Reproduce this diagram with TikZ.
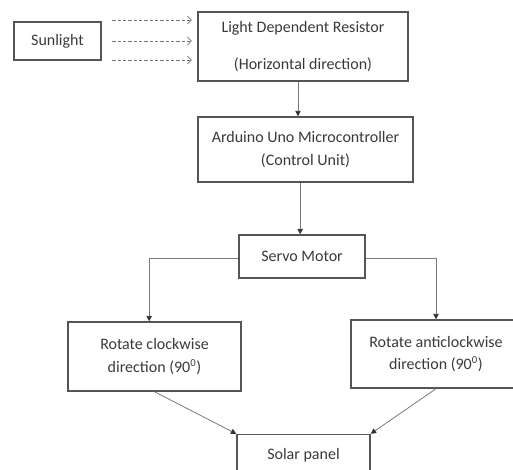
\documentclass[tikz,border=0pt]{standalone}
\usepackage{fontspec}
\setmainfont{Carlito}
\usetikzlibrary{arrows.meta}
\definecolor{boxgray}{HTML}{555555}
\definecolor{linegray}{HTML}{7A7A7A}
\definecolor{textgray}{HTML}{3A3A3A}
\tikzset{
  blockbox/.style={draw=boxgray, line width=1.1pt, align=center, inner sep=0pt,
    text=textgray, font=\fontsize{12}{14.4}\selectfont},
  flow/.style={draw=linegray, line width=0.6pt, -{Triangle[width=4pt,length=4pt,color=black!80]}},
  ray/.style={draw=linegray, line width=0.6pt, dashed, dash pattern=on 2.5pt off 1.5pt, -{Straight Barb[length=3pt,width=6pt]}}
}
\begin{document}
\begin{tikzpicture}[x=0.75pt,y=-0.75pt]
\clip (0,0) rectangle (513,470);
\fill[white] (0,0) rectangle (513,470);

\node[blockbox, minimum width=65pt, minimum height=28.5pt] (sun) at (57.5,41) {Sunlight};
\node[blockbox, minimum width=157.5pt, minimum height=51.75pt] (ldr) at (303,46.5) {Light Dependent Resistor\\[13pt](Horizontal direction)};
\node[blockbox, minimum width=161.25pt, minimum height=48.75pt] (ard) at (305.5,149.5) {Arduino Uno Microcontroller\\[2.5pt](Control Unit)};
\node[blockbox, minimum width=94.5pt, minimum height=32.25pt] (servo) at (302,256.5) {Servo Motor};
\node[blockbox, minimum width=129.75pt, minimum height=51.75pt] (cw) at (154.5,356.5) {Rotate clockwise\\[2.5pt]direction (90\textsuperscript{0})};
\node[blockbox, minimum width=127.5pt, minimum height=51pt] (acw) at (436,354) {Rotate anticlockwise\\[2.5pt]direction (90\textsuperscript{0})};
\node[blockbox, minimum width=99.75pt, minimum height=31.5pt] (solar) at (303.5,455.5) {Solar panel};

% sunlight rays
\path[ray] ([xshift=8pt,yshift=15.75pt]sun.east) -- ([xshift=-4pt,yshift=15.75pt]sun.east -| ldr.west);
\path[ray] ([xshift=8pt]sun.east) -- ([xshift=-4pt]sun.east -| ldr.west);
\path[ray] ([xshift=8pt,yshift=-14.25pt]sun.east) -- ([xshift=-4pt,yshift=-14.25pt]sun.east -| ldr.west);

% main flow
\path[flow] ([xshift=-3.75pt]ldr.south) -- ([xshift=-3.75pt]ldr.south |- ard.north);
\path[flow] ([xshift=-4pt]ard.south) -- ([xshift=-4pt]ard.south |- servo.north);
\path[flow] ([yshift=-1.5pt]servo.west) -| ([xshift=-4pt]cw.north);
\path[flow] ([yshift=-1.5pt]servo.east) -| (acw.north);
\path[flow] (cw.south) -- (solar.north west);
\path[flow] (acw.south) -- (solar.north east);
\end{tikzpicture}
\end{document}
